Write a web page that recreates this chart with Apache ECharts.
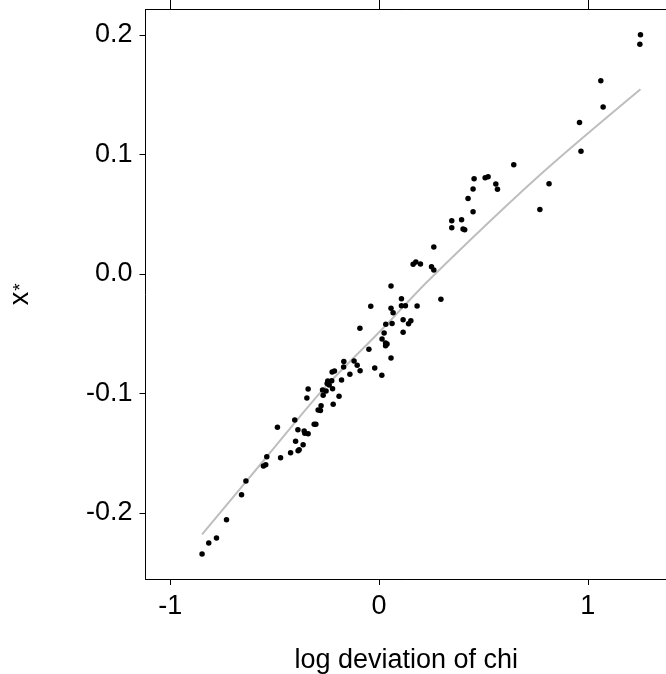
<!DOCTYPE html>
<html>
<head>
<meta charset="utf-8">
<script src="https://cdn.jsdelivr.net/npm/echarts@6/dist/echarts.min.js"></script>
<style>
html,body{margin:0;padding:0;background:#fff;}
#chart{width:666px;height:674px;}
</style>
</head>
<body>
<div id="chart"></div>
<script>
// Axis ticks
const xTicks = [-1, 0, 1];
const yTicks = [-0.2, -0.1, 0.0, 0.1, 0.2];
const xRange = [-1.119, 1.379];
const yRange = [-0.2552, 0.2212];

// Scatter: log deviation of chi (x) vs x* (y)
const logDev = [1.252, 1.249, 1.062, 1.073, 0.960, 0.967, 0.645, 0.814, 0.770, 0.455,
  0.508, 0.522, 0.559, 0.567, 0.450, 0.426, 0.450, 0.348, 0.348, 0.395,
  0.402, 0.410, 0.262, 0.163, 0.176, 0.198, 0.251, 0.262, 0.057, 0.107,
  0.296, -0.040, 0.057, 0.067, 0.107, 0.126, 0.182, 0.115, 0.152, 0.141,
  0.115, 0.062, 0.032, 0.024, 0.014, 0.031, 0.038, 0.031, 0.057, -0.092,
  -0.049, -0.021, 0.013, -0.169, -0.120, -0.105, -0.170, -0.091, -0.140, -0.225,
  -0.214, -0.180, -0.246, -0.227, -0.249, -0.239, -0.271, -0.254, -0.223, -0.268,
  -0.192, -0.220, -0.340, -0.346, -0.278, -0.292, -0.281, -0.404, -0.487, -0.389,
  -0.359, -0.356, -0.340, -0.311, -0.303, -0.400, -0.364, -0.383, -0.388, -0.424,
  -0.472, -0.538, -0.543, -0.554, -0.638, -0.659, -0.731, -0.779, -0.816, -0.848];
const xStar = [0.2003, 0.1922, 0.1618, 0.1397, 0.1269, 0.1027, 0.0915, 0.0756, 0.0541, 0.0797,
  0.0806, 0.0814, 0.0753, 0.0709, 0.0711, 0.0633, 0.0521, 0.0446, 0.0387, 0.0454,
  0.0377, 0.0371, 0.0226, 0.0081, 0.0100, 0.0084, 0.0061, 0.0033, -0.0100, -0.0207,
  -0.0212, -0.0270, -0.0287, -0.0324, -0.0265, -0.0265, -0.0268, -0.0382, -0.0391, -0.0416,
  -0.0488, -0.0413, -0.0421, -0.0494, -0.0544, -0.0577, -0.0586, -0.0600, -0.0703, -0.0454,
  -0.0630, -0.0787, -0.0848, -0.0731, -0.0728, -0.0764, -0.0778, -0.0809, -0.0839, -0.0820,
  -0.0812, -0.0887, -0.0895, -0.0893, -0.0915, -0.0929, -0.0971, -0.0979, -0.0960, -0.1015,
  -0.1023, -0.1090, -0.0962, -0.1038, -0.1102, -0.1138, -0.1141, -0.1222, -0.1283, -0.1303,
  -0.1314, -0.1333, -0.1336, -0.1258, -0.1258, -0.1400, -0.1428, -0.1470, -0.1479, -0.1495,
  -0.1537, -0.1529, -0.1596, -0.1607, -0.1732, -0.1847, -0.2056, -0.2209, -0.2251, -0.2343];

// Smooth fit line (grey)
const fitX = [-0.848, -0.538, -0.271, 0.019, 0.239, 0.770, 1.252];
const fitY = [-0.2178, -0.1529, -0.0971, -0.0454, -0.0050, 0.0828, 0.1546];

const FONT = 'Liberation Sans, Arial, Helvetica, sans-serif';
const FS = 27;
const scatterData = logDev.map((v, i) => [v, xStar[i]]);
const fitData = fitX.map((v, i) => [v, fitY[i]]);
const lineStyle = {color: '#000', width: 1};

const chart = echarts.init(document.getElementById('chart'), null, {renderer: 'canvas'});
chart.setOption({
  animation: false,
  backgroundColor: '#fff',
  grid: {left: 145.5, top: 9.7, right: -1, bottom: 95, show: false, containLabel: false, outerBoundsMode: 'none'},
  xAxis: [{
    type: 'value', position: 'bottom', min: xRange[0], max: xRange[1],
    splitLine: {show: false},
    axisLine: {show: true, onZero: false, lineStyle: lineStyle},
    axisTick: {show: true, inside: false, length: 6, customValues: xTicks, lineStyle: lineStyle},
    axisLabel: {show: true, customValues: xTicks, margin: 14, color: '#000', fontSize: FS, fontFamily: FONT,
      formatter: v => String(v)},
    name: 'log deviation of chi', nameLocation: 'middle', nameGap: 68,
    nameTextStyle: {color: '#000', fontSize: FS, fontFamily: FONT}
  }, {
    type: 'value', position: 'top', min: xRange[0], max: xRange[1],
    splitLine: {show: false},
    axisLine: {show: true, onZero: false, lineStyle: lineStyle},
    axisTick: {show: true, inside: false, length: 10, customValues: xTicks, lineStyle: lineStyle},
    axisLabel: {show: false}
  }],
  yAxis: [{
    type: 'value', position: 'left', min: yRange[0], max: yRange[1],
    splitLine: {show: false},
    axisLine: {show: true, onZero: false, lineStyle: lineStyle},
    axisTick: {show: true, inside: false, length: 6, customValues: yTicks, lineStyle: lineStyle},
    axisLabel: {show: true, customValues: yTicks, margin: 13, color: '#000', fontSize: FS, fontFamily: FONT,
      formatter: v => v.toFixed(1)},
    name: '{a|x}{b|*}', nameLocation: 'middle', nameGap: 111, nameRotate: 90,
    nameTextStyle: {color: '#000', fontFamily: FONT,
      rich: {a: {fontSize: FS, fontFamily: FONT, color: '#000', lineHeight: 30, verticalAlign: 'bottom'},
             b: {fontSize: 19, fontFamily: FONT, color: '#000', lineHeight: 30, verticalAlign: 'bottom', padding: [0, 0, 4, 1]}}}
  }],
  series: [{
    type: 'line', data: fitData, xAxisIndex: 0, yAxisIndex: 0,
    showSymbol: false, smooth: 0.3, z: 1,
    lineStyle: {color: '#bebebe', width: 2}
  }, {
    type: 'scatter', data: scatterData, xAxisIndex: 0, yAxisIndex: 0,
    symbol: 'circle', symbolSize: 5.5, z: 2,
    itemStyle: {color: '#000', opacity: 1}
  }]
});
</script>
</body>
</html>
